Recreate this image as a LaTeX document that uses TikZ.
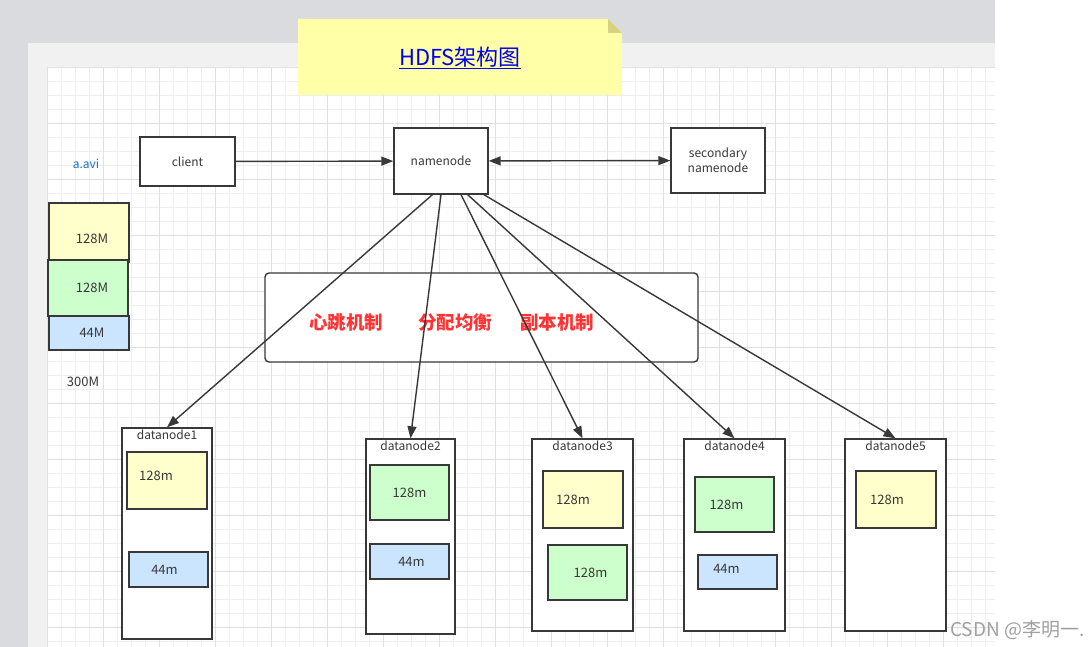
\documentclass[tikz,border=0pt]{standalone}
\usepackage{fontspec}
\setmainfont{Noto Sans CJK SC}
\usepackage{tikz}
\usetikzlibrary{arrows.meta,calc,positioning}
\definecolor{bgGray}{HTML}{DADBDF}
\definecolor{panelGray}{HTML}{F1F1F1}
\definecolor{gridMinor}{HTML}{EEEEEE}
\definecolor{gridMajor}{HTML}{E0E0E0}
\definecolor{noteYellow}{HTML}{FFFFA8}
\definecolor{noteFold}{HTML}{D6D27E}
\definecolor{lineDark}{HTML}{383838}
\definecolor{blkYellow}{HTML}{FFFFCC}
\definecolor{blkGreen}{HTML}{CCFFCC}
\definecolor{blkBlue}{HTML}{CCE5FF}
\definecolor{titleBlue}{HTML}{0000EE}
\definecolor{fileBlue}{HTML}{1A6FC4}
\definecolor{mechRed}{HTML}{FF3333}
\definecolor{markGray}{HTML}{A0A0A0}

\begin{document}
\begin{tikzpicture}[x=1pt, y=-1pt,
  every node/.style={font=\fontsize{12}{15}\selectfont, text=lineDark},
  >={Triangle[length=12pt,width=9pt]},
  srv/.style={draw=lineDark, line width=1.4pt, fill=white, inner sep=0pt, align=center},
  blk/.style={draw=lineDark, line width=1.4pt, fill=#1, inner sep=0pt},
  blkTxt/.style={font=\fontsize{13}{15}\selectfont},
  dnbox/.style={srv, minimum width=#1},
  link/.style={->, draw=lineDark, line width=1.4pt},
  mechTxt/.style={font=\fontsize{18.5}{22}\selectfont\bfseries, text=mechRed}]
\useasboundingbox (0,0) rectangle (1088,647);
% background, panel and grid
\fill[bgGray] (0,0) rectangle (995,647);
\fill[white] (995,0) rectangle (1088,647);
\fill[panelGray] (28,43) rectangle (995,647);
\fill[white] (47,67) rectangle (995,647);
\foreach \gx in {47,61,...,995} \draw[gridMinor, line width=0.8pt] (\gx,67) -- (\gx,647);
\foreach \gy in {67,81,...,647} \draw[gridMinor, line width=0.8pt] (47,\gy) -- (995,\gy);
\foreach \gx in {47,103,...,995} \draw[gridMajor, line width=0.8pt] (\gx,67) -- (\gx,647);
\foreach \gy in {67,123,...,647} \draw[gridMajor, line width=0.8pt] (47,\gy) -- (995,\gy);
% title note
\fill[noteYellow] (298,19) -- (608,19) -- (622,33) -- (622,95) -- (298,95) -- cycle;
\fill[noteFold] (608,19) -- (622,33) -- (608,33) -- cycle;
\node[font=\fontsize{22}{26}\selectfont, text=titleBlue] (title) at (460,58) {\underline{HDFS架构图}};
% file and its blocks
\node[text=fileBlue] (file) at (86,164) {a.avi};
\node[blk=blkYellow, minimum width=80pt, minimum height=59pt, label={[blkTxt, xshift=3, yshift=-6]center:128M}] (fb1) at (89,232.5) {};
\node[blk=blkGreen, minimum width=80pt, minimum height=56pt, label={[blkTxt, xshift=4]center:128M}] (fb2) at (88,288) {};
\node[blk=blkBlue, minimum width=80pt, minimum height=34pt, label={[blkTxt, xshift=3]center:44M}] (fb3) at (89,333) {};
\node[blkTxt] (total) at (83,382) {300M};
% client, namenode, secondary namenode
\node[srv, minimum width=95pt, minimum height=49pt] (client) at (187.5,161.5) {client};
\node[srv, minimum width=94pt, minimum height=66pt] (namenode) at (441,161) {namenode};
\node[srv, minimum width=94pt, minimum height=65pt] (secondary) at (718,160.5) {secondary\\namenode};
\draw[link] (client) -- (namenode);
\draw[link, <->] (namenode) -- (secondary);
% mechanisms
\node[draw=lineDark, line width=1.4pt, rounded corners=4pt, fill=white, minimum width=433pt, minimum height=89pt] (mech) at (481.5,317.5) {};
\node[mechTxt] (heart) at (346,322) {心跳机制};
\node[mechTxt] (balance) at (455,322) {分配均衡};
\node[mechTxt] (replica) at (557,322) {副本机制};
% datanodes
\foreach \n/\cx/\cy/\w/\h in {1/167/533.5/90/211, 2/410.5/536.5/89/195, 3/582.5/535/101/192, 4/734.5/535/101/192, 5/895.5/535/101/192}
  \node[dnbox=\w pt, minimum height=\h pt, label={[anchor=north, inner sep=2pt]north:datanode\n}] (dn\n) at (\cx,\cy) {};
\node[blk=blkYellow, minimum width=80pt, minimum height=57pt, label={[blkTxt, xshift=-11, yshift=5]center:128m}] (dn1a) at (167,480.5) {};
\node[blk=blkBlue, minimum width=79pt, minimum height=35pt, label={[blkTxt, xshift=-4]center:44m}] (dn1b) at (168.5,569.5) {};
\node[blk=blkGreen, minimum width=79pt, minimum height=55pt, label={[blkTxt]center:128m}] (dn2a) at (409.5,492.5) {};
\node[blk=blkBlue, minimum width=79pt, minimum height=35pt, label={[blkTxt, xshift=2]center:44m}] (dn2b) at (409.5,561.5) {};
\node[blk=blkYellow, minimum width=80pt, minimum height=57pt, label={[blkTxt, xshift=-10]center:128m}] (dn3a) at (583,499.5) {};
\node[blk=blkGreen, minimum width=79pt, minimum height=55pt, label={[blkTxt, xshift=3]center:128m}] (dn3b) at (587.5,572.5) {};
\node[blk=blkGreen, minimum width=79pt, minimum height=55pt, label={[blkTxt, xshift=-8]center:128m}] (dn4a) at (734.5,504.5) {};
\node[blk=blkBlue, minimum width=79pt, minimum height=34pt, label={[blkTxt, xshift=-11, yshift=3]center:44m}] (dn4b) at (737.5,572) {};
\node[blk=blkYellow, minimum width=80pt, minimum height=57pt, label={[blkTxt, xshift=-9]center:128m}] (dn5a) at (896,499.5) {};
% namenode to datanodes
\foreach \f/\d in {0.41/1, 0.50/2, 0.71/3, 0.78/4, 0.95/5}
  \draw[link] ($(namenode.south west)!\f!(namenode.south east)$) -- (dn\d.north);
\node[font=\fontsize{19}{22}\selectfont, text=markGray, anchor=east] (mark) at (1088,630) {CSDN @李明一.};
\end{tikzpicture}
\end{document}
